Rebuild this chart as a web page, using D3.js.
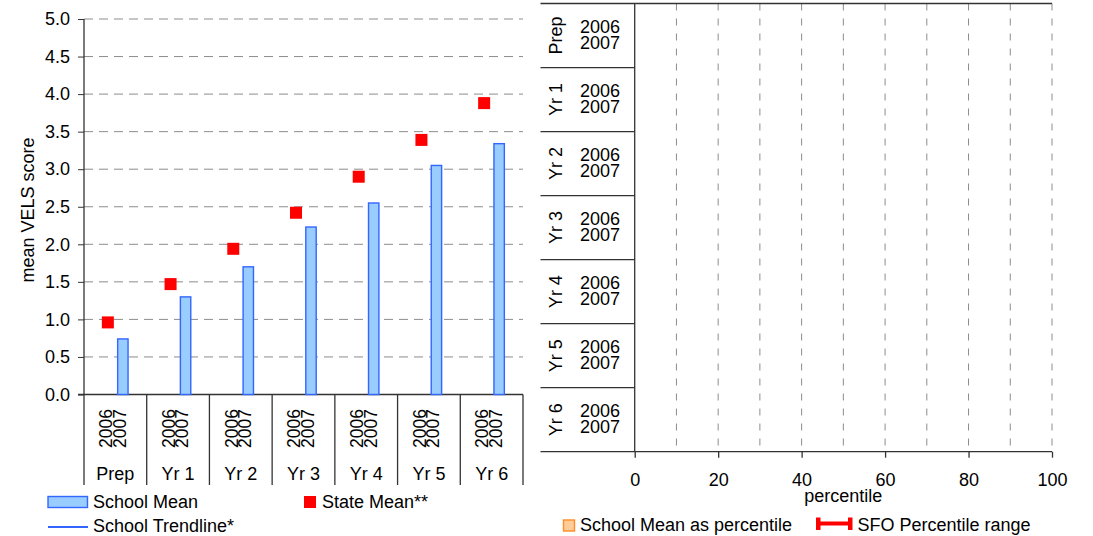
<!DOCTYPE html>
<html>
<head>
<meta charset="utf-8">
<script src="https://cdn.jsdelivr.net/npm/d3@7"></script>
<style>
  html, body { margin: 0; padding: 0; background: #fff; }
  svg { display: block; font-family: "Liberation Sans", Arial, sans-serif; }
  text { fill: #000; }
</style>
</head>
<body>
<svg id="chart" width="1093" height="536"></svg>
<script>
// ---------- DATA ----------
const categories = ["Prep", "Yr 1", "Yr 2", "Yr 3", "Yr 4", "Yr 5", "Yr 6"];
const years = ["2006", "2007"];
const schoolMean = [0.74, 1.30, 1.70, 2.23, 2.55, 3.05, 3.34];   // 2007 school mean
const stateMean  = [0.96, 1.47, 1.94, 2.42, 2.90, 3.39, 3.88];
const yTicks = [0, 0.5, 1, 1.5, 2, 2.5, 3, 3.5, 4, 4.5, 5];
const pctTicks = [0, 20, 40, 60, 80, 100];
const pctGrid = [10, 20, 30, 40, 50, 60, 70, 80, 90, 100];
const yTitle = "mean VELS score";
const xTitleRight = "percentile";
const legendLeft = ["School Mean", "State Mean**", "School Trendline*"];
const legendRight = ["School Mean as percentile", "SFO Percentile range"];

const svg = d3.select("#chart");
const FONT = 18;
const AXIS = "#333";
const GRID = "#8c8c8c";

// ---------- LEFT CHART ----------
const L = { left: 84, right: 523, top: 19, bottom: 394.5, catBottom: 485 };
const y = d3.scaleLinear().domain([0, 5]).range([L.bottom, L.top]);
const x = d3.scaleBand().domain(categories).range([L.left, L.right]).padding(0);
const bw = x.bandwidth();
const xs = d3.scalePoint().domain(years).range([bw / 2 - 7.5, bw / 2 + 7.5]);

const gl = svg.append("g");

// gridlines
gl.append("g").selectAll("line").data(yTicks.filter(d => d > 0)).join("line")
  .attr("x1", L.left).attr("x2", L.right)
  .attr("y1", d => y(d)).attr("y2", d => y(d))
  .attr("stroke", GRID).attr("stroke-width", 1).attr("stroke-dasharray", "9,6");

// y axis
const yAxis = d3.axisLeft(y).tickValues(yTicks).tickFormat(d3.format(".1f")).tickSize(6).tickPadding(8);
const ya = gl.append("g").attr("transform", `translate(${L.left},0)`).call(yAxis);
ya.select(".domain").remove();
ya.selectAll(".tick line").attr("stroke", AXIS);
ya.selectAll(".tick text").attr("font-size", FONT).attr("font-family", "Liberation Sans, Arial, sans-serif").attr("fill", "#000");

// axis line (vertical) and baseline
gl.append("line").attr("x1", L.left).attr("x2", L.left).attr("y1", L.top).attr("y2", L.catBottom)
  .attr("stroke", AXIS).attr("stroke-width", 1.3);
gl.append("line").attr("x1", L.left - 6).attr("x2", L.right).attr("y1", L.bottom).attr("y2", L.bottom)
  .attr("stroke", AXIS).attr("stroke-width", 1.3);

// category separators
gl.append("g").selectAll("line").data(categories).join("line")
  .attr("x1", d => x(d) + bw).attr("x2", d => x(d) + bw)
  .attr("y1", L.bottom).attr("y2", L.catBottom)
  .attr("stroke", AXIS).attr("stroke-width", 1.3);

// bars (school mean)
gl.append("g").selectAll("rect").data(categories).join("rect")
  .attr("x", (d, i) => x(d) + xs("2007") - 5.2)
  .attr("width", 10.4)
  .attr("y", (d, i) => y(schoolMean[i]))
  .attr("height", (d, i) => y(0) - y(schoolMean[i]))
  .attr("fill", "#99ccff").attr("stroke", "#3366ff").attr("stroke-width", 1.4);

// state mean markers
gl.append("g").selectAll("rect").data(categories).join("rect")
  .attr("x", (d, i) => x(d) + xs("2006") - 6)
  .attr("y", (d, i) => y(stateMean[i]) - 6)
  .attr("width", 12).attr("height", 12)
  .attr("fill", "#ff0000");

// year labels (rotated), one text element with two lines
const yl = gl.append("g").selectAll("text").data(categories).join("text")
  .attr("transform", d => `translate(${x(d) + bw / 2},428.5) rotate(-90)`)
  .attr("text-anchor", "middle").attr("font-size", 17.5);
yl.append("tspan").attr("x", 0).attr("y", -3.2).text(years[0]);
yl.append("tspan").attr("x", 0).attr("y", 10.3).text(years[1]);

// category labels
gl.append("g").selectAll("text").data(categories).join("text")
  .attr("x", d => x(d) + bw / 2).attr("y", 480).attr("text-anchor", "middle")
  .attr("font-size", FONT).text(d => d);

// y title
gl.append("text").attr("transform", "translate(33.5,210) rotate(-90)")
  .attr("text-anchor", "middle").attr("font-size", FONT).text(yTitle);

// left legend
gl.append("rect").attr("x", 48).attr("y", 496.5).attr("width", 39.5).attr("height", 11)
  .attr("fill", "#99ccff").attr("stroke", "#3366ff").attr("stroke-width", 1.4);
gl.append("text").attr("x", 93).attr("y", 508).attr("font-size", FONT).text(legendLeft[0]);
gl.append("rect").attr("x", 304).attr("y", 496).attr("width", 12).attr("height", 12).attr("fill", "#ff0000");
gl.append("text").attr("x", 322).attr("y", 508).attr("font-size", FONT).text(legendLeft[1]);
gl.append("line").attr("x1", 48).attr("x2", 88).attr("y1", 527).attr("y2", 527)
  .attr("stroke", "#3366ff").attr("stroke-width", 2.2);
gl.append("text").attr("x", 93).attr("y", 532).attr("font-size", FONT).text(legendLeft[2]);

// ---------- RIGHT CHART ----------
const R = { labLeft: 540.5, left: 634.7, right: 1052, top: 3.5, bottom: 451.7 };
const px = d3.scaleLinear().domain([0, 100]).range([R.left, R.right]);
const ry = d3.scaleBand().domain(categories).range([R.top, R.bottom]).padding(0);
const rh = ry.bandwidth();

const gr = svg.append("g");

// dashed vertical gridlines
gr.append("g").selectAll("line").data(pctGrid).join("line")
  .attr("x1", d => px(d)).attr("x2", d => px(d))
  .attr("y1", R.top).attr("y2", R.bottom)
  .attr("stroke", GRID).attr("stroke-width", 1).attr("stroke-dasharray", "7,8");

// row separators (including top and bottom)
const seps = [R.top].concat(categories.map(c => ry(c) + rh));
gr.append("g").selectAll("line").data(seps).join("line")
  .attr("x1", R.labLeft).attr("x2", (d, i) => (i === 0 || i === seps.length - 1) ? R.right : R.left)
  .attr("y1", d => d).attr("y2", d => d)
  .attr("stroke", AXIS).attr("stroke-width", 1.3);

// vertical axis at 0
gr.append("line").attr("x1", R.left).attr("x2", R.left).attr("y1", R.top).attr("y2", R.bottom)
  .attr("stroke", AXIS).attr("stroke-width", 1.3);

// bottom percentile axis
const pAxis = d3.axisBottom(px).tickValues(pctTicks).tickFormat(d3.format("d")).tickSize(6).tickPadding(16);
const pa = gr.append("g").attr("transform", `translate(0,${R.bottom})`).call(pAxis);
pa.select(".domain").remove();
pa.selectAll(".tick line").attr("stroke", AXIS).attr("stroke-width", 1.3);
pa.selectAll(".tick text").attr("font-size", FONT).attr("font-family", "Liberation Sans, Arial, sans-serif").attr("fill", "#000");

gr.append("text").attr("x", (R.left + R.right) / 2).attr("y", 501.5).attr("text-anchor", "middle")
  .attr("font-size", FONT).text(xTitleRight);

// row labels
gr.append("g").selectAll("text").data(categories).join("text")
  .attr("transform", d => `translate(562,${ry(d) + rh / 2}) rotate(-90)`)
  .attr("text-anchor", "middle").attr("font-size", FONT).text(d => d);
const ryl = gr.append("g").selectAll("text").data(categories).join("text")
  .attr("font-size", FONT);
ryl.append("tspan").attr("x", 580).attr("y", d => ry(d) + rh / 2 - 2.2).text(years[0]);
ryl.append("tspan").attr("x", 580).attr("y", d => ry(d) + rh / 2 + 13.8).text(years[1]);

// right legend
gr.append("rect").attr("x", 563.5).attr("y", 520).attr("width", 11).attr("height", 11)
  .attr("fill", "#ffcc99").attr("stroke", "#ff8c26").attr("stroke-width", 1.4);
gr.append("text").attr("x", 580).attr("y", 531).attr("font-size", FONT).text(legendRight[0]);
gr.append("line").attr("x1", 817).attr("x2", 852).attr("y1", 523.5).attr("y2", 523.5)
  .attr("stroke", "#ff0000").attr("stroke-width", 4);
gr.append("rect").attr("x", 816).attr("y", 517.5).attr("width", 4.5).attr("height", 12.5).attr("fill", "#ff0000");
gr.append("rect").attr("x", 848).attr("y", 517.5).attr("width", 4.5).attr("height", 12.5).attr("fill", "#ff0000");
gr.append("text").attr("x", 857.5).attr("y", 531).attr("font-size", FONT).text(legendRight[1]);
</script>
</body>
</html>
